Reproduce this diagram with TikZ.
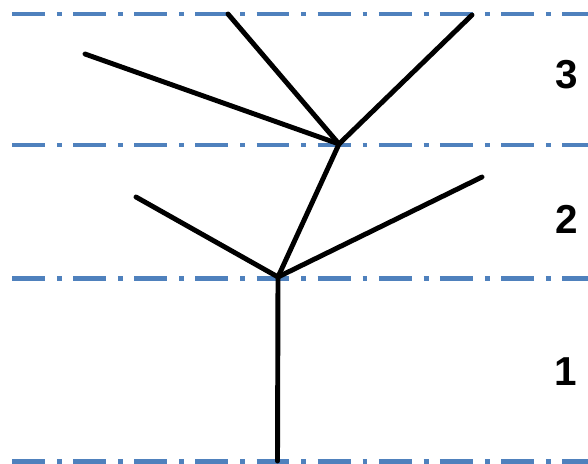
\documentclass[tikz,border=0pt]{standalone}
\usepackage{fontspec}
\setmainfont{Liberation Sans}
\usepackage{xcolor}
\usetikzlibrary{positioning}

\definecolor{layerblue}{RGB}{79,129,189}

\begin{document}
\begin{tikzpicture}[x=0.02cm, y=-0.02cm,
		cutline/.style={draw=layerblue, line width=2.8pt, dash pattern=on 18.7pt off 6.8pt on 2.8pt off 6.5pt},
		branch/.style={draw=black, line width=2.8pt, line cap=round, line join=round},
		zone/.style={font=\fontsize{23}{23}\selectfont\bfseries, inner sep=0pt}]
			\useasboundingbox (0, 0) rectangle (588, 463);
			% Layer boundaries:
			\draw[cutline] (12, 14) -- (588, 14);
			\draw[cutline] (12, 145) -- (588, 145);
			\draw[cutline] (12, 278.5) -- (588, 278.5);
			\draw[cutline] (12, 461.5) -- (588, 461.5);
			% Tree points:
			\coordinate (R) at (277.5, 461);
			\coordinate (A) at (278, 277);
			\coordinate (B) at (339, 144);
			\coordinate (A1) at (136, 197);
			\coordinate (A2) at (482, 177);
			\coordinate (B1) at (85, 54);
			\coordinate (B2) at (228, 14);
			\coordinate (B3) at (472, 15);
			% Branches:
			\draw[branch] (R) -- (A);
			\draw[branch] (A1) -- (A) -- (A2);
			\draw[branch] (A) -- (B);
			\draw[branch] (B1) -- (B) -- (B3);
			\draw[branch] (B2) -- (B);
			% Layer numbers:
			\node[zone](L3) at (566.5, 74.5){3};
			\node[zone](L2) at (567, 219.5){2};
			\node[zone](L1) at (566, 372){1};
		\end{tikzpicture}
\end{document}
